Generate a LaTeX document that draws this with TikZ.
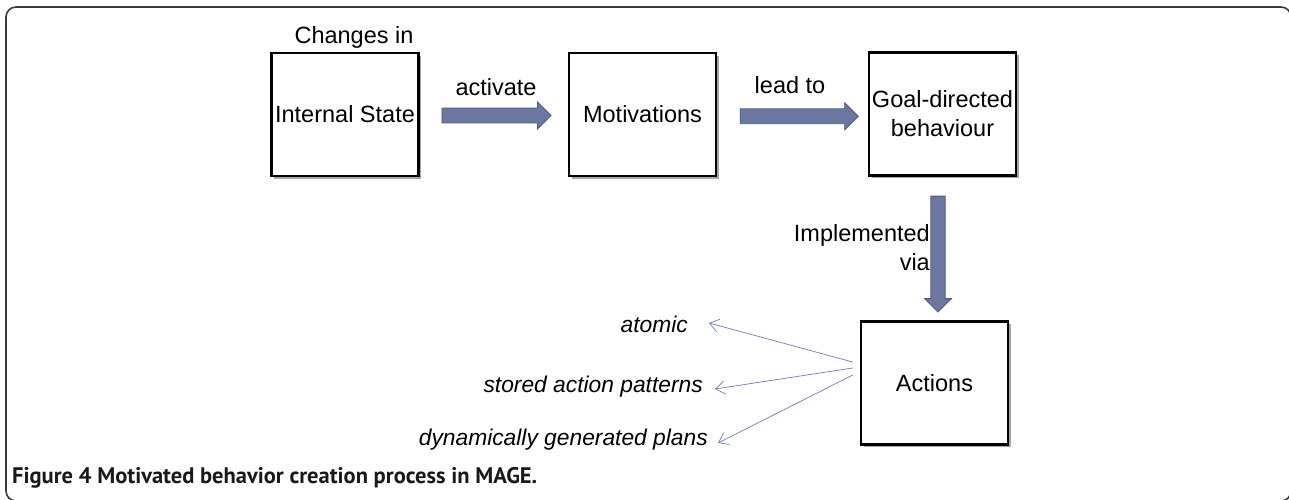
\documentclass[tikz,border=0pt]{standalone}
\usepackage{fontspec}
\setmainfont{Liberation Sans}
\newfontfamily\capfont{PT Sans}
\usetikzlibrary{shapes.arrows,shadows,calc,arrows.meta}
\definecolor{arrowfill}{HTML}{6A77A1}
\definecolor{arrowedge}{HTML}{4E5A85}
\definecolor{thinblue}{HTML}{6F7DBA}
\definecolor{framegray}{HTML}{3A3A3A}
\begin{document}
\begin{tikzpicture}[x=1pt,y=-1pt,
  box/.style={draw=black,line width=2.6pt,fill=white,minimum width=147pt,minimum height=123pt,inner sep=0pt,
    drop shadow={shadow xshift=2.5pt,shadow yshift=-2.5pt,fill=black,opacity=0.35}},
  lbl/.style={font=\fontsize{23.5}{29}\selectfont, inner sep=0pt, align=center},
  ilbl/.style={font=\fontsize{22.8}{29}\selectfont\itshape, inner sep=0pt, anchor=east},
  blockarrow/.style={single arrow, draw=arrowedge, fill=arrowfill, line width=0.8pt,
    text height=0pt, text depth=0pt, text width=0pt,
    minimum width=27pt, single arrow head extend=6pt},
  harrow/.style={blockarrow, inner xsep=0pt, inner ysep=7pt},
  varrow/.style={blockarrow, inner xsep=6.5pt, inner ysep=0pt, shape border rotate=270},
  fanarrow/.style={draw=thinblue, line width=0.7pt, -{Straight Barb[length=9pt,width=13pt]}}
]
\useasboundingbox (0,0) rectangle (1289,499);
\clip (0,0) rectangle (1289,499);
\draw[framegray, line width=1.6pt, rounded corners=10pt] (6,7) rectangle (1291,501);

% boxes
\node[box,lbl] (is)   at (345,114.5) {Internal State};
\node[box,lbl] (mot)  at (642.5,114.5) {Motivations};
\node[box,lbl] (goal) at (942.5,114) {Goal-directed\\behaviour};
\node[box,lbl] (act)  at (934.5,383) {Actions};

% labels
\node[lbl] (chg) at (354,37) {Changes in};
\node[lbl] (activate) at (496,87) {activate};
\node[lbl] (leadto) at (790,85) {lead to};
\node[lbl, align=right, anchor=east] (impl) at (930,247.5) {Implemented\\via};

% block arrows
\node[harrow, minimum height=109pt] (a1) at ($(is.east)!0.5!(mot.west)+(-1,1)$) {};
\node[harrow, minimum height=118pt] (a2) at ($(mot.east)!0.5!(goal.west)+(3,2)$) {};
\node[varrow, minimum height=116pt] (a3) at ($(goal.south)!0.5!(act.north)+(-0.5,2)$) {};

% fan of options
\node[ilbl] (atomic) at (688,324) {atomic};
\node[ilbl] (stored) at (703,387) {stored action patterns};
\node[ilbl] (dyn)    at (708,440) {dynamically generated plans};
\draw[fanarrow] ([xshift=-7pt,yshift=21pt]act.west) -- ([xshift=21pt,yshift=1pt]atomic.east);
\draw[fanarrow] ([xshift=-7pt,yshift=15pt]act.west) -- ([xshift=12pt,yshift=-2pt]stored.east);
\draw[fanarrow] ([xshift=-7pt,yshift=8pt]act.west) -- ([xshift=10pt,yshift=-3pt]dyn.east);

% caption
\node[anchor=west, inner sep=0pt, font=\capfont\bfseries\fontsize{22.5}{26}\selectfont, text=black!90] (cap)
  at (12,478) {Figure 4 Motivated behavior creation process in MAGE.};
\end{tikzpicture}
\end{document}
